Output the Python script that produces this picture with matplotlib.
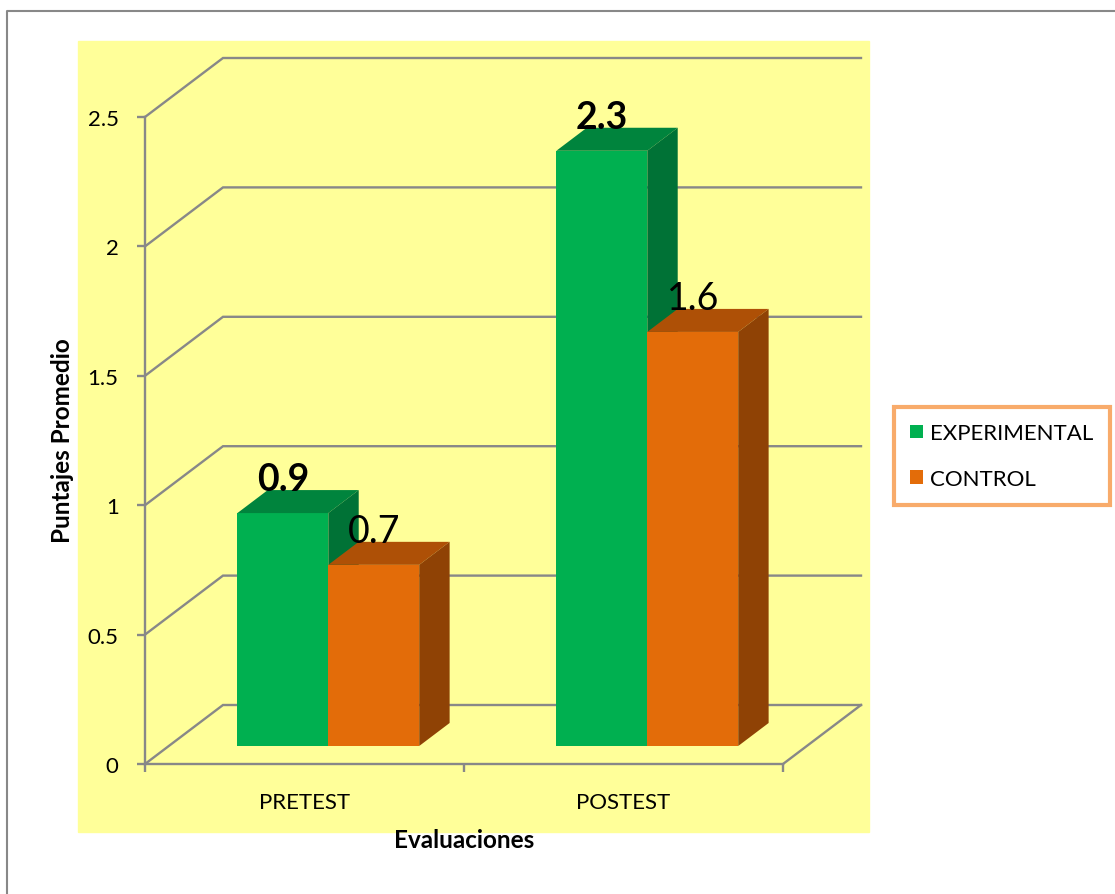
import matplotlib
matplotlib.use("Agg")
import matplotlib.pyplot as plt
from matplotlib.patches import Polygon, Rectangle, Patch
from matplotlib.lines import Line2D

plt.rcParams['font.family'] = ['Lato', 'DejaVu Sans']

# datos
categorias = ['PRETEST', 'POSTEST']
series = ['EXPERIMENTAL', 'CONTROL']
experimental = [0.9, 2.3]
control = [0.7, 1.6]
yticks = [0, 0.5, 1, 1.5, 2, 2.5]
ytick_labels = ['0', '0.5', '1', '1.5', '2', '2.5']

# colores (frente, tapa, lado)
verde = ('#00B050', '#00843D', '#007236')
naranja = ('#E36C09', '#AE5006', '#8F4205')
gris = '#888888'

W, H = 1115, 895
fig = plt.figure(figsize=(W / 100, H / 100), dpi=100)

# fondo amarillo del area de grafico y borde
fig.patches.append(Rectangle((78 / W, 1 - 833 / H), (869 - 78) / W, (833 - 42) / H,
                             transform=fig.transFigure, color='#FFFF99', zorder=-1))
fig.lines.append(Line2D([7 / W, 7 / W, 1.0], [0, 1 - 12 / H, 1 - 12 / H],
                        transform=fig.transFigure, color='#888888', lw=1.5))

ax = fig.add_axes([145 / W, 1 - 765 / H, (783 - 145) / W, (765 - 118) / H])
ax.set_facecolor('none')
ax.set_xlim(-0.5, 1.5)
ax.set_ylim(0, 2.5)

# profundidad de la perspectiva (en unidades de datos)
DX = 78 / 319
DY = 59 / 258.8
f0 = 0.305   # desplazamiento de la cara frontal de la barra
fb = 0.39    # profundidad de la barra
ancho = 0.285

# paredes / lineas de division
for v in yticks:
    ax.plot([-0.5, -0.5 + DX, 1.5 + DX], [v, v + DY, v + DY], color=gris, lw=1.7,
            clip_on=False, zorder=1, solid_joinstyle='miter')
ax.plot([1.5, 1.5 + DX], [0, DY], color=gris, lw=1.7, clip_on=False, zorder=1)

def barra(x0, valor, cols):
    bx = x0 + f0 * DX
    by = f0 * DY
    top = by + valor
    dx, dy = fb * DX, fb * DY
    frente = Polygon([(bx, by), (bx + ancho, by), (bx + ancho, top), (bx, top)])
    tapa = Polygon([(bx, top), (bx + ancho, top), (bx + ancho + dx, top + dy), (bx + dx, top + dy)])
    lado = Polygon([(bx + ancho, by), (bx + ancho + dx, by + dy), (bx + ancho + dx, top + dy), (bx + ancho, top)])
    for p, c in zip([frente, tapa, lado], cols):
        p.set_facecolor(c)
        p.set_edgecolor('none')
        p.set_clip_on(False)
        p.set_zorder(3)
        ax.add_patch(p)
    return bx + ancho / 2, top + dy

for j in range(len(categorias)):
    cx, cy = barra(j - ancho, experimental[j], verde)
    ax.text(cx, cy, f'{experimental[j]}', ha='center', va='baseline',
            fontsize=27, fontweight='bold', zorder=5)
    cx, cy = barra(j, control[j], naranja)
    ax.text(cx, cy, f'{control[j]}', ha='center', va='baseline',
            fontsize=27, zorder=5)

# ejes
for s in ['top', 'right']:
    ax.spines[s].set_visible(False)
for s in ['left', 'bottom']:
    ax.spines[s].set_color(gris)
    ax.spines[s].set_linewidth(1.7)
    ax.spines[s].set_zorder(2)

ax.set_yticks(yticks)
ax.set_yticklabels(ytick_labels)
ax.tick_params(axis='y', direction='out', length=6, width=1.7, color=gris,
               labelsize=16, pad=13)

ax.set_xticks([-0.5, 0.5, 1.5])
ax.set_xticklabels([])
ax.set_xticks(range(len(categorias)), minor=True)
ax.set_xticklabels(categorias, minor=True)
ax.tick_params(axis='x', which='major', direction='out', length=6, width=1.7, color=gris)
ax.tick_params(axis='x', which='minor', length=0, labelsize=16, pad=20)

fig.text(62 / W, 1 - 441 / H, 'Puntajes Promedio', rotation=90, ha='center', va='center',
         fontsize=17.5, fontweight='bold')
fig.text(464 / W, 1 - 841 / H, 'Evaluaciones', ha='center', va='center',
         fontsize=17.5, fontweight='bold')

# leyenda
handles = [Patch(facecolor=verde[0]), Patch(facecolor=naranja[0])]
leg = fig.legend(handles, series, loc='center', bbox_to_anchor=(1002 / W, 1 - 457 / H),
                 fontsize=16, frameon=True, fancybox=False, handlelength=0.55,
                 handleheight=0.55, handletextpad=0.35, labelspacing=1.15,
                 borderpad=0.75)
leg.get_frame().set_edgecolor('#F79646')
leg.get_frame().set_linewidth(3)

fig.savefig('out.png', dpi=100)
